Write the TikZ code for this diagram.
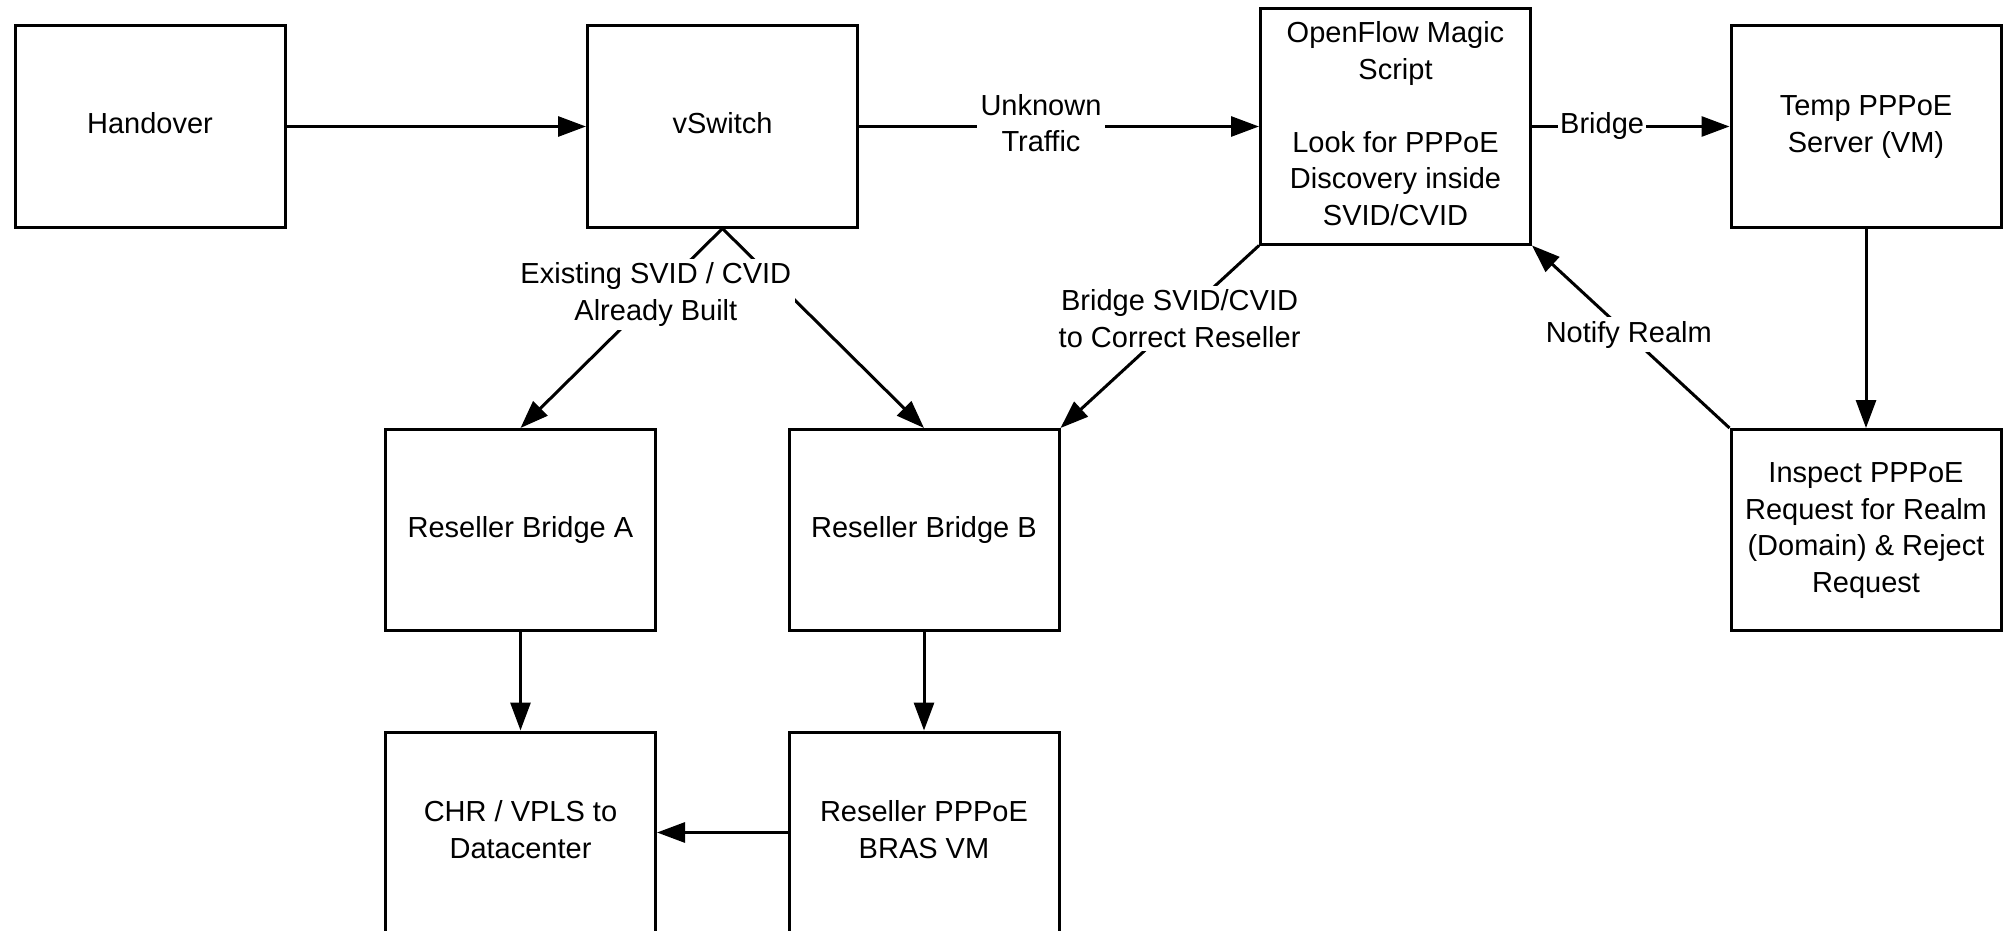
\documentclass[tikz,border=0pt]{standalone}
\usepackage{fontspec}
\setmainfont{Liberation Sans}
\usetikzlibrary{arrows.meta}
\newcommand\bxtxt[1]{\raisebox{1.75pt}{\begin{tabular}{@{}c@{}}#1\end{tabular}}}
\tikzset{
  box/.style={draw, line width=1.5pt, rectangle, minimum width=135pt, minimum height=100.5pt, inner sep=0pt, font=\fontsize{14.5}{18.25}\selectfont},
  conn/.style={line width=1.5pt, -{Triangle[length=14pt,width=10pt]}},
  lbl/.style={fill=white, inner sep=2pt, align=center, font=\fontsize{14.5}{18.25}\selectfont}
}
\begin{document}
\begin{tikzpicture}[x=0.5pt,y=-0.5pt]
\useasboundingbox (0,0) rectangle (2003,931);
\node[box] (hand) at (150,126.5) {\bxtxt{Handover}};
\node[box] (vsw) at (722.5,126.5) {\bxtxt{vSwitch}};
\node[box, minimum height=117.5pt] (ofm) at (1395.5,126.5) {\bxtxt{OpenFlow Magic\\Script\\[18.25pt]Look for PPPoE\\Discovery inside\\SVID/CVID}};
\node[box] (temp) at (1866,126.5) {\bxtxt{Temp PPPoE\\Server (VM)}};
\node[box] (rba) at (520.5,530) {\bxtxt{Reseller Bridge A}};
\node[box] (rbb) at (924,530) {\bxtxt{Reseller Bridge B}};
\node[box] (insp) at (1866,530) {\bxtxt{Inspect PPPoE\\Request for Realm\\(Domain) \& Reject\\Request}};
\node[box] (chr) at (520.5,832.5) {\bxtxt{CHR / VPLS to\\Datacenter}};
\node[box] (bras) at (924,832.5) {\bxtxt{Reseller PPPoE\\BRAS VM}};

\draw[conn] (hand) -- (vsw);
\draw[conn] (vsw) -- node[lbl, pos=0.455, yshift=1.75pt] {Unknown\\Traffic} (ofm);
\draw[conn] (ofm) -- node[lbl, pos=0.355, inner sep=1pt] {Bridge} (temp);
\draw[conn] (vsw.south) -- (rbb.north);
\draw[conn] (vsw.south) -- node[lbl, pos=0.33] {Existing SVID / CVID\\Already Built} (rba.north);
\draw[conn] (ofm.south west) -- node[lbl, pos=0.4] {Bridge SVID/CVID\\to Correct Reseller} (rbb.north east);
\draw[conn] (insp.north west) -- node[lbl, pos=0.51] {Notify Realm} (ofm.south east);
\draw[conn] (temp) -- (insp);
\draw[conn] (rba) -- (chr);
\draw[conn] (rbb) -- (bras);
\draw[conn] (bras) -- (chr);
\end{tikzpicture}
\end{document}
